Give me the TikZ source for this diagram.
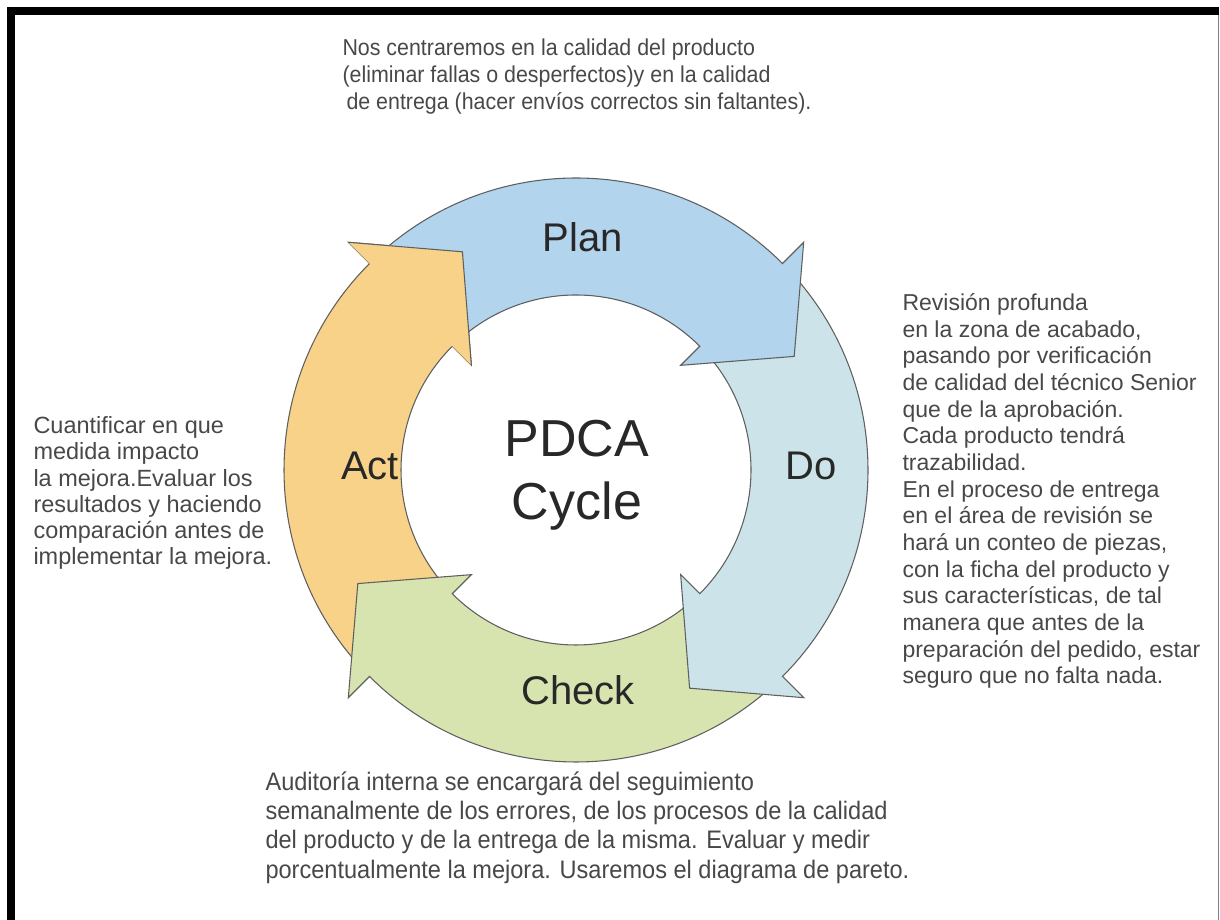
\documentclass[tikz,border=0pt]{standalone}
\usepackage{fontspec}
\setmainfont{Liberation Sans}
\newfontfamily\narrowsans[FakeStretch=0.93]{Liberation Sans}
\definecolor{planBlue}{RGB}{178,212,236}
\definecolor{doCyan}{RGB}{204,228,233}
\definecolor{checkGreen}{RGB}{215,228,176}
\definecolor{actOrange}{RGB}{249,210,138}
\definecolor{edgeGray}{RGB}{95,95,95}
\definecolor{labelDark}{RGB}{40,40,40}
\definecolor{noteGray}{RGB}{72,72,72}
\begin{document}
\begin{tikzpicture}[x=0.75pt, y=0.75pt, thick,
  stepArrow/.style={draw=edgeGray, line width=0.8pt, line join=miter},
  stepLabel/.style={rectangle, draw=none, inner sep=0pt, text=labelDark, font=\fontsize{30}{36}\selectfont},
  noteText/.style={rectangle, draw=none, inner sep=0pt, align=left, anchor=north west, text=noteGray, font=\fontsize{17.25}{20}\selectfont}]
\useasboundingbox (0,0) rectangle (1220,920);
% \draw[help lines, step=100] (0,0) grid (1220,920);
%%%%%%%%%%%%%%%%%%%%%%%%%%%%%%% Frame
\fill[black] (7,0) rectangle (15,913);
\fill[black] (7,905) rectangle (1219,913);
\draw[gray, line width=0.75pt] (1218.5,0) -- (1218.5,905);

%%%%%%%%%%%%%%%%%%%%%%%%%%%%%%% Cycle arrows
\coordinate (cen) at (576,450);
\begin{scope}[shift={(cen)}]
% Act
\filldraw[stepArrow, fill=actOrange] (222:292) arc[start angle=222, end angle=135, radius=292] -- (135:322) -- (117.5:246) -- (135:148) -- (135:175) arc[start angle=135, end angle=222, radius=175] -- cycle;
% Check
\filldraw[stepArrow, fill=checkGreen] (-48:292) arc[start angle=-48, end angle=-135, radius=292] -- (-135:322) -- (-152.5:246) -- (-135:148) -- (-135:175) arc[start angle=-135, end angle=-48, radius=175] -- cycle;
% Do
\filldraw[stepArrow, fill=doCyan] (42:292) arc[start angle=42, end angle=-45, radius=292] -- (-45:322) -- (-62.5:246) -- (-45:148) -- (-45:175) arc[start angle=-45, end angle=42, radius=175] -- cycle;
% Plan
\filldraw[stepArrow, fill=planBlue] (132:292) arc[start angle=132, end angle=45, radius=292] -- (45:322) -- (27.5:246) -- (45:148) -- (45:175) arc[start angle=45, end angle=132, radius=175] -- cycle;
% Act head again, over the tail of Plan
\fill[actOrange] (135:148) -- (117.5:246) -- (135:322) -- cycle;
\draw[stepArrow] (135:148) -- (117.5:246) -- (135:322);
\end{scope}

%%%%%%%%%%%%%%%%%%%%%%%%%%%%%%% Step labels
\node[stepLabel](lblPlan) at (583,683){Plan};
\node[stepLabel](lblDo) at (811,454){Do};
\node[stepLabel](lblCheck) at (578,230){Check};
\node[stepLabel](lblAct) at (370,454){Act};
\node[rectangle, draw=none, inner sep=0pt, align=center, text=labelDark, font=\fontsize{39}{47}\selectfont](lblCycle) at (577,445){PDCA\\Cycle};

%%%%%%%%%%%%%%%%%%%%%%%%%%%%%%% Notes
\node[noteText, font=\narrowsans\fontsize{17.25}{20.25}\selectfont](notePlan) at (342,882){Nos centraremos en la calidad del producto\\(eliminar fallas o desperfectos)y en la calidad\\\hspace{3pt}de entrega (hacer envíos correctos sin faltantes).};
\node[noteText](noteDo) at (902,627){Revisión profunda\\en la zona de acabado,\\pasando por verificación\\de calidad del técnico Senior\\que de la aprobación.\\Cada producto tendrá\\trazabilidad.\\En el proceso de entrega\\en el área de revisión se\\hará un conteo de piezas,\\con la ficha del producto y\\sus características, de tal\\manera que antes de la\\preparación del pedido, estar\\seguro que no falta nada.};
\node[noteText, font=\fontsize{17.6}{19.7}\selectfont](noteAct) at (33,504){Cuantificar en que\\medida impacto\\la mejora.Evaluar los\\resultados y haciendo\\comparación antes de\\implementar la mejora.};
\node[noteText, font=\narrowsans\fontsize{19}{22}\selectfont](noteCheck) at (265,149){Auditoría interna se encargará del seguimiento\\semanalmente de los errores, de los procesos de la calidad\\del producto y de la entrega de la misma. Evaluar y medir\\porcentualmente la mejora. Usaremos el diagrama de pareto.};
\end{tikzpicture}
\end{document}
